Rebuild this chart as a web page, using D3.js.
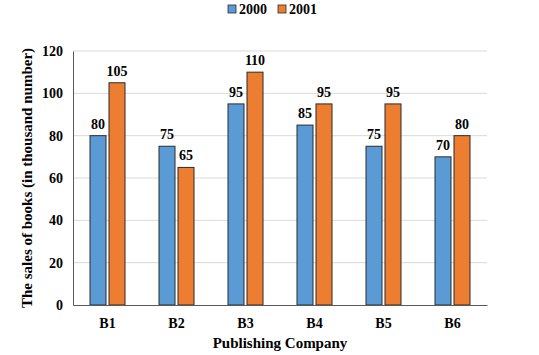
<!DOCTYPE html>
<html><head><meta charset="utf-8">
<script src="https://cdn.jsdelivr.net/npm/d3@7"></script>
<style>body{margin:0;background:#fff}svg{display:block}svg text{font-family:'Liberation Serif','Times New Roman','DejaVu Serif',serif !important;font-weight:bold;fill:#000}</style>
</head><body><svg id="c" width="539" height="355"></svg>
<script>
const categories = ["B1","B2","B3","B4","B5","B6"];
const seriesNames = ["2000","2001"];
const values2000 = [80,75,95,85,75,70];
const values2001 = [105,65,110,95,95,80];
const yTicks = [0,20,40,60,80,100,120];
const colors = ["#5B9BD5","#ED7D31"];

const svg = d3.select("#c");
const m = {l:73, r:52, t:51, b:50};
const W = 539, H = 355;
const x = d3.scaleBand().domain(categories).range([m.l, W - m.r]).paddingInner(0).paddingOuter(0);
const y = d3.scaleLinear().domain([0,120]).range([H - m.b, m.t]);

svg.append("g").selectAll("line").data(yTicks.filter(d=>d>0)).join("line")
  .attr("x1", m.l).attr("x2", W - m.r).attr("y1", d=>y(d)).attr("y2", d=>y(d))
  .attr("stroke", "#d9d9d9").attr("stroke-width", 1);

const ya = svg.append("g").attr("transform", `translate(${m.l},0)`)
  .call(d3.axisLeft(y).tickValues(yTicks).tickSize(0).tickPadding(10));
ya.attr("font-family", null);
ya.select(".domain").attr("stroke", "#595959");
ya.selectAll("text").style("font-size","14px");

const series = [values2000, values2001];
const bw = 16, gap = 3;
const g = svg.append("g");
series.forEach((vals, si) => {
  g.selectAll(".b"+si).data(categories).join("rect")
    .attr("x", (c)=> x(c) + x.bandwidth()/2 - bw - gap/2 + si*(bw+gap))
    .attr("y", (c,i)=> y(vals[i]))
    .attr("width", bw)
    .attr("height", (c,i)=> y(0) - y(vals[i]))
    .attr("fill", colors[si]).attr("stroke", "#2b2b2b").attr("stroke-width", 1);
  g.selectAll(".t"+si).data(categories).join("text")
    .attr("x", (c)=> x(c) + x.bandwidth()/2 - bw/2 - gap/2 + si*(bw+gap))
    .attr("y", (c,i)=> y(vals[i]) - 7)
    .attr("text-anchor","middle").style("font-size","14px")
    .text((c,i)=> vals[i]);
});

const xa = svg.append("g").attr("transform", `translate(0,${H - m.b})`)
  .call(d3.axisBottom(x).tickSize(0).tickPadding(13));
xa.attr("font-family", null);
xa.select(".domain").attr("stroke", "#595959");
xa.selectAll("text").style("font-size","14px");

svg.append("text").attr("x", (m.l + W - m.r)/2).attr("y", 348).attr("text-anchor","middle")
  .style("font-size","15px").text("Publishing Company");
svg.append("text").attr("transform", `translate(32,${(m.t + H - m.b)/2}) rotate(-90)`).attr("text-anchor","middle")
  .style("font-size","15px").text("The sales of books (in thousand number)");

const lg = svg.append("g");
const lx = [228, 278];
seriesNames.forEach((s, i) => {
  lg.append("rect").attr("x", lx[i]).attr("y", 5).attr("width", 8).attr("height", 8)
    .attr("fill", colors[i]).attr("stroke", "#2b2b2b").attr("stroke-width", 0.8);
  lg.append("text").attr("x", lx[i] + 11).attr("y", 14).style("font-size","14px").text(s);
});
</script></body></html>
